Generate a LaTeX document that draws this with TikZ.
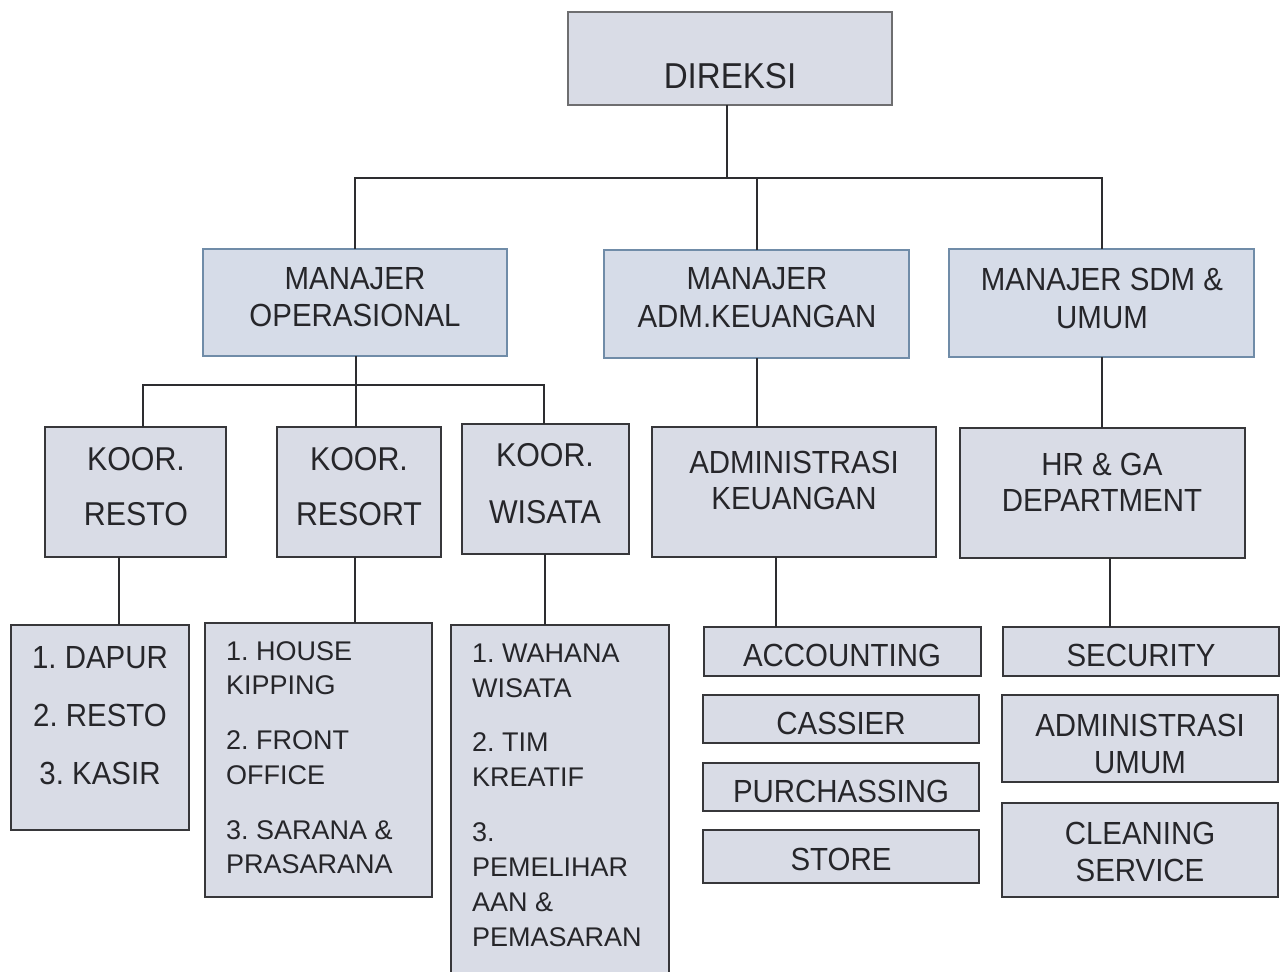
\documentclass[tikz,border=0pt]{standalone}
\usepackage{fontspec}
\setmainfont[FakeStretch=0.92]{Liberation Sans}
\newfontfamily\listfont{Liberation Sans}
\definecolor{boxfill}{RGB}{217,220,230}
\definecolor{mgrfill}{RGB}{214,220,232}
\definecolor{mgrline}{RGB}{112,140,168}
\definecolor{boxline}{RGB}{55,55,58}
\definecolor{dirline}{RGB}{110,110,112}
\definecolor{txtcol}{RGB}{38,38,42}
\definecolor{conncol}{RGB}{45,45,48}
\tikzset{
  box/.style={draw=boxline, line width=2.6pt, fill=boxfill, anchor=north west, inner sep=0pt, outer sep=0pt},
  mgr/.style={box, draw=mgrline, line width=2pt, fill=mgrfill},
  dirbox/.style={box, draw=dirline, line width=2pt},
  txt/.style={text=txtcol, inner sep=0pt, align=center, font=\fontsize{32}{37}\selectfont},
  lst/.style={text=txtcol, inner sep=0pt, align=left, anchor=west, font=\listfont\fontsize{27}{34.5}\selectfont},
  conn/.style={draw=conncol, line width=2pt}
}
\begin{document}
\frenchspacing
\begin{tikzpicture}[x=1pt, y=-1pt]
\useasboundingbox (0,0) rectangle (1283,972);
\fill[white] (0,0) rectangle (1283,972);
% boxes
\node[dirbox, minimum width=324, minimum height=93] (dir) at (568,12) {};
\node[mgr, minimum width=304, minimum height=107] (mo) at (203,249) {};
\node[mgr, minimum width=305, minimum height=108] (adm) at (604,250) {};
\node[mgr, minimum width=305, minimum height=108] (sdm) at (949,249) {};
\node[box, minimum width=181, minimum height=130] (kresto) at (45,427) {};
\node[box, minimum width=164, minimum height=130] (kresort) at (277,427) {};
\node[box, minimum width=167, minimum height=130] (kwis) at (462,424) {};
\node[box, minimum width=284, minimum height=130] (admk) at (652,427) {};
\node[box, minimum width=285, minimum height=130] (hr) at (960,428) {};
\node[box, minimum width=178, minimum height=205] (lresto) at (11,625) {};
\node[box, minimum width=227, minimum height=274] (lresort) at (205,623) {};
\node[box, minimum width=218, minimum height=365] (lwis) at (451,625) {};
\node[box, minimum width=277, minimum height=49] (acc) at (704,627) {};
\node[box, minimum width=276, minimum height=48] (cas) at (703,695) {};
\node[box, minimum width=276, minimum height=48] (pur) at (703,763) {};
\node[box, minimum width=276, minimum height=53] (sto) at (703,830) {};
\node[box, minimum width=276, minimum height=49] (sec) at (1003,627) {};
\node[box, minimum width=276, minimum height=87] (admu) at (1002,695) {};
\node[box, minimum width=276, minimum height=94] (cln) at (1002,803) {};
% texts
\node[txt, font=\fontsize{36}{40}\selectfont] (t-dir) at (730,76) {DIREKSI};
\node[txt] (t-mo) at (355,297.5) {MANAJER\\OPERASIONAL};
\node[txt, font=\fontsize{32}{38}\selectfont] (t-adm) at (757,298) {MANAJER\\ADM.KEUANGAN};
\node[txt, font=\fontsize{32}{38}\selectfont] (t-sdm) at (1102,298) {MANAJER SDM \&\\UMUM};
\node[txt, font=\fontsize{33}{55}\selectfont] (t-kresto) at (136,486.5) {KOOR.\\RESTO};
\node[txt, font=\fontsize{33}{55}\selectfont] (t-kresort) at (359,486.5) {KOOR.\\RESORT};
\node[txt, font=\fontsize{33}{57}\selectfont] (t-kwis) at (545,483.5) {KOOR.\\WISATA};
\node[txt, font=\fontsize{32}{36}\selectfont] (t-admk) at (794,480) {ADMINISTRASI\\KEUANGAN};
\node[txt, font=\fontsize{32}{36}\selectfont] (t-hr) at (1102,482) {HR \& GA\\DEPARTMENT};
\node[txt, font=\fontsize{32}{58}\selectfont] (t-lresto) at (100,716) {1. DAPUR\\2. RESTO\\3. KASIR};
\node[lst] (t-lresort) at (226,757.5) {1. HOUSE\\KIPPING\\[20.5pt]2. FRONT\\OFFICE\\[20.5pt]3. SARANA \&\\PRASARANA};
\node[lst, font=\listfont\fontsize{27}{35}\selectfont] (t-lwis) at (472,795) {1. WAHANA\\WISATA\\[19pt]2. TIM\\KREATIF\\[20pt]3.\\PEMELIHAR\\AAN \&\\PEMASARAN};
\node[txt] (t-acc) at (842,655) {ACCOUNTING};
\node[txt] (t-cas) at (841,723) {CASSIER};
\node[txt] (t-pur) at (841,791) {PURCHASSING};
\node[txt] (t-sto) at (841,859) {STORE};
\node[txt] (t-sec) at (1141,655) {SECURITY};
\node[txt, font=\fontsize{32}{37}\selectfont] (t-admu) at (1140,744) {ADMINISTRASI\\UMUM};
\node[txt, font=\fontsize{32}{37}\selectfont] (t-cln) at (1140,852) {CLEANING\\SERVICE};
% connectors
\coordinate (b1) at (727,178);
\coordinate (b2) at (356,385);
\coordinate (k1) at (143,385);
\coordinate (k3) at (544,385);
\draw[conn] (dir.south -| b1) -- (b1);
\draw[conn] (mo.north) |- (b1) -| (sdm.north);
\draw[conn] (adm.north) -- (adm.north |- b1);
\draw[conn] (mo.south -| b2) -- (b2);
\draw[conn] (kresto.north -| k1) -- (k1) -- (k3) -- (kwis.north -| k3);
\draw[conn] (b2) -- (kresort.north -| b2);
\draw[conn] (adm.south) -- (adm.south |- admk.north);
\draw[conn] (sdm.south) -- (sdm.south |- hr.north);
\draw[conn] (kresto.south -| 119,0) -- (lresto.north -| 119,0);
\draw[conn] (kresort.south -| 355,0) -- (lresort.north -| 355,0);
\draw[conn] (kwis.south -| 545,0) -- (lwis.north -| 545,0);
\draw[conn] (admk.south -| 776,0) -- (acc.north -| 776,0);
\draw[conn] (hr.south -| 1110,0) -- (sec.north -| 1110,0);
\end{tikzpicture}
\end{document}
